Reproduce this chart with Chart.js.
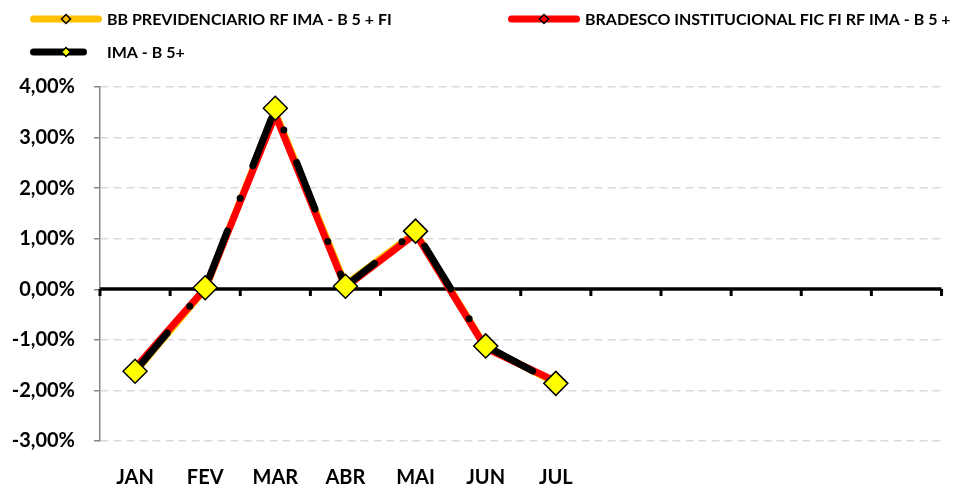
<!DOCTYPE html>
<html>
<head>
<meta charset="utf-8">
<script src="https://cdn.jsdelivr.net/npm/chart.js@4.4.0/dist/chart.umd.min.js"></script>
<style>
  html, body { margin: 0; padding: 0; background: #fff; }
  #wrap { width: 955px; height: 488px; position: relative; }
</style>
</head>
<body>
<div id="wrap"><canvas id="rentChart"></canvas></div>
<script>
// monthly returns in %
const months = ['JAN', 'FEV', 'MAR', 'ABR', 'MAI', 'JUN', 'JUL', '', '', '', '', ''];
const bbPrev = [-1.64, 0.00, 3.50, 0.10, 1.12, -1.14, -1.85];
const bradesco = [-1.56, 0.02, 3.45, 0.04, 1.10, -1.16, -1.82];
const imaB5 = [-1.62, 0.03, 3.58, 0.06, 1.15, -1.12, -1.86];
const seriesNames = [
  'BB PREVIDENCIARIO RF IMA - B 5 + FI',
  'BRADESCO INSTITUCIONAL FIC FI RF IMA - B 5 +',
  'IMA - B 5+',
];
const yTickValues = [-3, -2, -1, 0, 1, 2, 3, 4];

const FONT = 'Lato, "Open Sans", sans-serif';

const fmtPct = (v) => v.toFixed(2).replace('.', ',') + '%';

// excel style axis: thick line at zero with ticks between categories
const zeroAxis = {
  id: 'zeroAxis',
  beforeDatasetsDraw(chart) {
    const { ctx, chartArea, scales } = chart;
    const y0 = Math.round(scales.y.getPixelForValue(0));
    const n = months.length;
    const step = (scales.x.getPixelForValue(1) - scales.x.getPixelForValue(0));
    ctx.save();
    ctx.strokeStyle = '#000';
    ctx.lineWidth = 3.5;
    ctx.beginPath();
    ctx.moveTo(chartArea.left, y0);
    ctx.lineTo(chartArea.right, y0);
    ctx.stroke();
    ctx.lineWidth = 3;
    for (let i = 0; i <= n; i++) {
      const x = scales.x.getPixelForValue(i) - step / 2;
      ctx.beginPath();
      ctx.moveTo(x, y0);
      ctx.lineTo(x, y0 + 7);
      ctx.stroke();
    }
    ctx.restore();
  },
};

// legend laid out like the spreadsheet one (two columns)
const legendSlots = [
  { x: 30, y: 19 },
  { x: 508, y: 19 },
  { x: 30, y: 52 },
];
const diamond = (ctx, x, y, r, fill) => {
  ctx.beginPath();
  ctx.moveTo(x - r, y);
  ctx.lineTo(x, y - r);
  ctx.lineTo(x + r, y);
  ctx.lineTo(x, y + r);
  ctx.closePath();
  ctx.fillStyle = fill;
  ctx.fill();
  ctx.lineWidth = 1.5;
  ctx.strokeStyle = '#000';
  ctx.stroke();
};
const gridLegend = {
  id: 'gridLegend',
  afterDraw(chart) {
    const { ctx } = chart;
    chart.data.datasets.forEach((ds, i) => {
      const s = legendSlots[i];
      ctx.save();
      ctx.strokeStyle = ds.borderColor;
      ctx.lineWidth = ds.borderWidth;
      ctx.lineCap = 'round';
      ctx.setLineDash(ds.borderDash || []);
      ctx.beginPath();
      ctx.moveTo(s.x + 3.5, s.y);
      ctx.lineTo(s.x + 68.5, s.y);
      ctx.stroke();
      ctx.setLineDash([]);
      diamond(ctx, s.x + 36, s.y, 4.5, ds.pointBackgroundColor);
      ctx.fillStyle = '#000';
      ctx.font = 'bold 16px ' + FONT;
      ctx.textBaseline = 'middle';
      ctx.fillText(ds.label, s.x + 77, s.y + 1);
      ctx.restore();
    });
  },
};

const ctx = document.getElementById('rentChart').getContext('2d');
const rentChart = new Chart(ctx, {
  type: 'line',
  data: {
    labels: months,
    datasets: [
      {
        label: seriesNames[0],
        data: bbPrev,
        borderColor: '#FFC000',
        borderWidth: 7,
        pointStyle: 'rectRot',
        pointRadius: 5,
        pointBackgroundColor: '#FFC000',
        pointBorderColor: '#000',
        pointBorderWidth: 1.5,
        order: 3,
      },
      {
        label: seriesNames[1],
        data: bradesco,
        borderColor: '#FF0000',
        borderWidth: 7,
        pointStyle: 'rectRot',
        pointRadius: 5,
        pointBackgroundColor: '#FF0000',
        pointBorderColor: '#000',
        pointBorderWidth: 1.5,
        order: 2,
      },
      {
        label: seriesNames[2],
        data: imaB5,
        borderColor: '#000000',
        borderWidth: 7,
        borderDash: [50, 35, 0, 35],
        borderCapStyle: 'round',
        borderJoinStyle: 'round',
        pointStyle: 'rectRot',
        pointRadius: 12,
        pointBackgroundColor: '#FFFF00',
        pointBorderColor: '#000',
        pointBorderWidth: 1.5,
        order: 1,
      },
    ],
  },
  options: {
    responsive: true,
    maintainAspectRatio: false,
    animation: false,
    events: [],
    layout: {
      padding: { top: 87, right: 10, bottom: 0, left: 0 },
    },
    elements: { line: { tension: 0 } },
    plugins: {
      legend: { display: false },
      tooltip: { enabled: false },
    },
    scales: {
      x: {
        offset: true,
        grid: { display: false },
        border: { display: false },
        ticks: {
          autoSkip: false,
          maxRotation: 0,
          padding: 17,
          color: '#000',
          font: { family: FONT, size: 20, weight: 'bold' },
        },
        afterFit: (scale) => { scale.height = 47; },
      },
      y: {
        min: yTickValues[0],
        max: yTickValues[yTickValues.length - 1],
        afterBuildTicks: (scale) => {
          scale.ticks = yTickValues.map((v) => ({ value: v }));
        },
        grid: {
          color: (c) => (c.tick && c.tick.value === 0 ? 'rgba(0,0,0,0)' : '#d9d9d9'),
          lineWidth: 1.5,
          tickColor: '#868686',
          tickLength: 6,
          tickWidth: 1.5,
          tickBorderDash: [],
        },
        border: { display: true, color: '#868686', width: 1.5, dash: [8, 5] },
        ticks: {
          padding: 19,
          color: '#000',
          font: { family: FONT, size: 20, weight: 'bold' },
          callback: (v) => fmtPct(v),
        },
        afterFit: (scale) => { scale.width = 100; },
      },
    },
  },
  plugins: [zeroAxis, gridLegend],
});
</script>
</body>
</html>
